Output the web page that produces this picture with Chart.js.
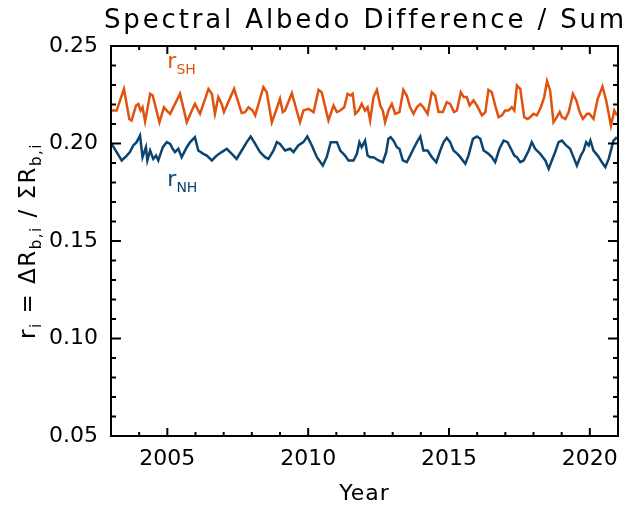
<!DOCTYPE html>
<html>
<head>
<meta charset="utf-8">
<script src="https://cdn.jsdelivr.net/npm/chart.js@4.4.0/dist/chart.umd.min.js"></script>
<style>
  html, body { margin: 0; padding: 0; background: #fff; }
  #wrap { width: 624px; height: 505px; }
</style>
</head>
<body>
<div id="wrap"><canvas id="albedo"></canvas></div>
<script>
// values (decimal year, ratio)
const shYear = [2003.02, 2003.20, 2003.46, 2003.65, 2003.73, 2003.89, 2003.97, 2004.05, 2004.12, 2004.21,
  2004.39, 2004.48, 2004.72, 2004.88, 2004.98, 2005.10, 2005.45, 2005.69, 2005.87, 2005.98,
  2006.16, 2006.46, 2006.58, 2006.69, 2006.81, 2006.93, 2007.01, 2007.37, 2007.64, 2007.76,
  2007.88, 2008.03, 2008.12, 2008.41, 2008.53, 2008.71, 2008.86, 2009.00, 2009.10, 2009.18,
  2009.42, 2009.71, 2009.83, 2010.01, 2010.19, 2010.37, 2010.48, 2010.72, 2010.90, 2011.02,
  2011.14, 2011.28, 2011.40, 2011.51, 2011.58, 2011.67, 2011.79, 2011.90, 2012.02, 2012.11,
  2012.20, 2012.32, 2012.44, 2012.56, 2012.65, 2012.73, 2012.85, 2012.97, 2013.09, 2013.24,
  2013.38, 2013.50, 2013.62, 2013.74, 2013.86, 2013.98, 2014.09, 2014.24, 2014.39, 2014.51,
  2014.63, 2014.78, 2014.92, 2015.04, 2015.18, 2015.28, 2015.42, 2015.52, 2015.63, 2015.73,
  2015.87, 2015.99, 2016.17, 2016.29, 2016.40, 2016.52, 2016.64, 2016.76, 2016.88, 2016.99,
  2017.11, 2017.23, 2017.32, 2017.41, 2017.53, 2017.67, 2017.79, 2017.88, 2018.00, 2018.12,
  2018.26, 2018.38, 2018.48, 2018.59, 2018.71, 2018.83, 2018.93, 2019.01, 2019.13, 2019.25,
  2019.40, 2019.52, 2019.64, 2019.75, 2019.90, 2019.99, 2020.13, 2020.28, 2020.45, 2020.58,
  2020.75, 2020.87, 2020.96];
const shVal = [0.2169, 0.2169, 0.2280, 0.2126, 0.2118, 0.2195, 0.2203, 0.2169, 0.2186, 0.2113,
  0.2255, 0.2246, 0.2109, 0.2186, 0.2169, 0.2152, 0.2255, 0.2109, 0.2169, 0.2203,
  0.2152, 0.2280, 0.2255, 0.2152, 0.2238, 0.2203, 0.2161, 0.2280, 0.2156, 0.2161,
  0.2186, 0.2169, 0.2144, 0.2289, 0.2263, 0.2109, 0.2169, 0.2229, 0.2161, 0.2169,
  0.2258, 0.2109, 0.2169, 0.2178, 0.2161, 0.2275, 0.2263, 0.2118, 0.2195, 0.2161,
  0.2169, 0.2186, 0.2255, 0.2246, 0.2255, 0.2152, 0.2169, 0.2203, 0.2169, 0.2186,
  0.2118, 0.2238, 0.2275, 0.2195, 0.2169, 0.2109, 0.2169, 0.2203, 0.2152, 0.2161,
  0.2275, 0.2246, 0.2186, 0.2152, 0.2186, 0.2203, 0.2186, 0.2152, 0.2263, 0.2246,
  0.2161, 0.2161, 0.2212, 0.2203, 0.2161, 0.2169, 0.2263, 0.2238, 0.2238, 0.2195,
  0.2221, 0.2195, 0.2144, 0.2161, 0.2275, 0.2263, 0.2195, 0.2135, 0.2144, 0.2169,
  0.2169, 0.2186, 0.2169, 0.2297, 0.2280, 0.2135, 0.2126, 0.2135, 0.2152, 0.2144,
  0.2186, 0.2238, 0.2320, 0.2272, 0.2109, 0.2135, 0.2161, 0.2135, 0.2126, 0.2161,
  0.2255, 0.2221, 0.2161, 0.2126, 0.2152, 0.2152, 0.2126, 0.2229, 0.2292, 0.2221,
  0.2092, 0.2169, 0.2144];

const nhYear = [2003.02, 2003.38, 2003.56, 2003.67, 2003.79, 2003.91, 2004.03, 2004.12, 2004.24, 2004.29,
  2004.39, 2004.50, 2004.60, 2004.68, 2004.84, 2004.98, 2005.10, 2005.19, 2005.27, 2005.39,
  2005.51, 2005.69, 2005.81, 2005.98, 2006.10, 2006.28, 2006.40, 2006.58, 2006.75, 2006.93,
  2007.11, 2007.29, 2007.46, 2007.64, 2007.82, 2007.96, 2008.12, 2008.29, 2008.47, 2008.59,
  2008.77, 2008.89, 2009.00, 2009.18, 2009.36, 2009.48, 2009.65, 2009.83, 2009.97, 2010.13,
  2010.31, 2010.52, 2010.66, 2010.80, 2011.02, 2011.14, 2011.31, 2011.43, 2011.61, 2011.73,
  2011.82, 2011.90, 2012.02, 2012.11, 2012.20, 2012.32, 2012.50, 2012.65, 2012.77, 2012.85,
  2012.93, 2013.03, 2013.15, 2013.24, 2013.36, 2013.50, 2013.62, 2013.74, 2013.86, 2013.98,
  2014.09, 2014.24, 2014.39, 2014.55, 2014.69, 2014.81, 2014.92, 2015.04, 2015.16, 2015.30,
  2015.40, 2015.58, 2015.69, 2015.85, 2015.99, 2016.11, 2016.23, 2016.40, 2016.52, 2016.64,
  2016.79, 2016.94, 2017.08, 2017.17, 2017.32, 2017.41, 2017.53, 2017.65, 2017.83, 2017.94,
  2018.06, 2018.24, 2018.33, 2018.42, 2018.54, 2018.65, 2018.77, 2018.89, 2019.01, 2019.16,
  2019.30, 2019.42, 2019.54, 2019.68, 2019.78, 2019.87, 2019.96, 2020.02, 2020.13, 2020.28,
  2020.43, 2020.55, 2020.67, 2020.84, 2020.96];
const nhVal = [0.1998, 0.1913, 0.1938, 0.1956, 0.1990, 0.2007, 0.2041, 0.1930, 0.1981, 0.1913,
  0.1964, 0.1921, 0.1938, 0.1913, 0.1981, 0.2007, 0.1998, 0.1973, 0.1956, 0.1973,
  0.1930, 0.1981, 0.2007, 0.2032, 0.1964, 0.1947, 0.1938, 0.1913, 0.1938, 0.1956,
  0.1973, 0.1947, 0.1921, 0.1964, 0.2007, 0.2036, 0.1998, 0.1956, 0.1930, 0.1921,
  0.1964, 0.2007, 0.1998, 0.1964, 0.1973, 0.1956, 0.1990, 0.2007, 0.2036, 0.1990,
  0.1930, 0.1887, 0.1930, 0.2007, 0.2007, 0.1964, 0.1938, 0.1913, 0.1913, 0.1947,
  0.2007, 0.1981, 0.2015, 0.1938, 0.1930, 0.1930, 0.1913, 0.1904, 0.1956, 0.2024,
  0.2032, 0.2015, 0.1981, 0.1973, 0.1913, 0.1904, 0.1938, 0.1973, 0.2007, 0.2036,
  0.1964, 0.1964, 0.1930, 0.1904, 0.1964, 0.2007, 0.2029, 0.2007, 0.1964, 0.1947,
  0.1930, 0.1896, 0.1938, 0.2024, 0.2036, 0.2024, 0.1964, 0.1947, 0.1930, 0.1904,
  0.1973, 0.2015, 0.2007, 0.1981, 0.1938, 0.1930, 0.1904, 0.1913, 0.1964, 0.2007,
  0.1973, 0.1947, 0.1930, 0.1913, 0.1870, 0.1913, 0.1956, 0.2007, 0.2015, 0.1990,
  0.1973, 0.1930, 0.1887, 0.1938, 0.1964, 0.2007, 0.1990, 0.2015, 0.1964, 0.1938,
  0.1904, 0.1879, 0.1921, 0.2015, 0.2032];

const xTicks = [2005, 2010, 2015, 2020];
const yTicks = [0.05, 0.10, 0.15, 0.20, 0.25];

const orange = '#e0520e';
const navy = '#0c4470';
const FONT = '"DejaVu Sans", sans-serif';

function pairs(xs, ys) {
  return xs.map((v, i) => ({ x: v, y: ys[i] }));
}

// draw text with a subscript part, returns width used
function drawSub(ctx, parts, x, y, big, small) {
  let cx = x;
  parts.forEach(p => {
    ctx.font = (p.sub ? small : big) + 'px ' + FONT;
    ctx.fillText(p.t, cx, y + (p.sub ? big * 0.28 : 0));
    cx += ctx.measureText(p.t).width;
  });
  return cx - x;
}
function measureSub(ctx, parts, big, small) {
  let w = 0;
  parts.forEach(p => {
    ctx.font = (p.sub ? small : big) + 'px ' + FONT;
    w += ctx.measureText(p.t).width;
  });
  return w;
}

const decor = {
  id: 'decor',
  afterDatasetsDraw(chart) {
    const { ctx, chartArea: a, scales: { x, y } } = chart;
    ctx.save();
    ctx.strokeStyle = '#000';
    ctx.lineWidth = 2;
    ctx.strokeRect(a.left, a.top, a.right - a.left, a.bottom - a.top);

    // inward ticks on all four sides
    ctx.beginPath();
    for (let yr = 2004; yr <= 2020; yr++) {
      const px = x.getPixelForValue(yr);
      const len = xTicks.includes(yr) ? 8 : 4;
      ctx.moveTo(px, a.bottom); ctx.lineTo(px, a.bottom - len);
      ctx.moveTo(px, a.top); ctx.lineTo(px, a.top + len);
    }
    for (let k = 6; k <= 24; k++) {
      const py = y.getPixelForValue(k / 100);
      const len = k % 5 === 0 ? 10 : 5;
      ctx.moveTo(a.left, py); ctx.lineTo(a.left + len, py);
      ctx.moveTo(a.right, py); ctx.lineTo(a.right - len, py);
    }
    ctx.stroke();

    ctx.fillStyle = '#000';
    ctx.textBaseline = 'alphabetic';

    // title
    ctx.font = '26px ' + FONT;
    ctx.letterSpacing = '2.85px';
    ctx.textAlign = 'center';
    ctx.fillText('Spectral Albedo Difference / Sum', (a.left + a.right) / 2 + 1, 28);

    // x title
    ctx.font = '22px ' + FONT;
    ctx.letterSpacing = '1px';
    ctx.fillText('Year', (a.left + a.right) / 2, 500);

    // y title, rotated
    ctx.textAlign = 'left';
    ctx.letterSpacing = '1.5px';
    const yt = [
      { t: 'r' }, { t: 'i', sub: true }, { t: ' = \u0394R' }, { t: 'b,i', sub: true },
      { t: ' / \u03a3R' }, { t: 'b,i', sub: true }
    ];
    const w = measureSub(ctx, yt, 23, 15);
    ctx.save();
    ctx.translate(35, (a.top + a.bottom) / 2);
    ctx.rotate(-Math.PI / 2);
    drawSub(ctx, yt, -w / 2, 0, 23, 15);
    ctx.restore();
    ctx.letterSpacing = '0px';

    // series labels
    ctx.fillStyle = orange;
    drawSub(ctx, [{ t: 'r' }, { t: 'SH', sub: true }], x.getPixelForValue(2005.0), y.getPixelForValue(0.2386), 22, 14);
    ctx.fillStyle = navy;
    drawSub(ctx, [{ t: 'r' }, { t: 'NH', sub: true }], x.getPixelForValue(2005.0), y.getPixelForValue(0.1782), 22, 14);
    ctx.restore();
  }
};

new Chart(document.getElementById('albedo'), {
  type: 'line',
  data: {
    datasets: [
      { label: 'SH', data: pairs(shYear, shVal), borderColor: orange, borderWidth: 2.5, pointRadius: 0, tension: 0 },
      { label: 'NH', data: pairs(nhYear, nhVal), borderColor: navy, borderWidth: 2.5, pointRadius: 0, tension: 0 }
    ]
  },
  options: {
    responsive: true,
    maintainAspectRatio: false,
    animation: false,
    layout: { padding: { top: 46, right: 6, left: 0, bottom: 0 } },
    plugins: { legend: { display: false }, tooltip: { enabled: false } },
    scales: {
      x: {
        type: 'linear',
        min: 2003,
        max: 2021,
        afterBuildTicks: s => { s.ticks = xTicks.map(v => ({ value: v })); },
        afterFit: s => { s.height = 69; s.paddingLeft = 0; s.paddingRight = 0; },
        grid: { display: false, drawTicks: false },
        border: { display: false },
        ticks: { color: '#000', font: { family: FONT, size: 22 }, padding: 10, maxRotation: 0, callback: v => String(v) }
      },
      y: {
        min: 0.05,
        max: 0.25,
        afterBuildTicks: s => { s.ticks = yTicks.map(v => ({ value: v })); },
        afterFit: s => { s.width = 111; s.paddingTop = 0; s.paddingBottom = 0; },
        grid: { display: false, drawTicks: false },
        border: { display: false },
        ticks: { color: '#000', font: { family: FONT, size: 22 }, padding: 13, callback: v => v.toFixed(2) }
      }
    }
  },
  plugins: [decor]
});
</script>
</body>
</html>
